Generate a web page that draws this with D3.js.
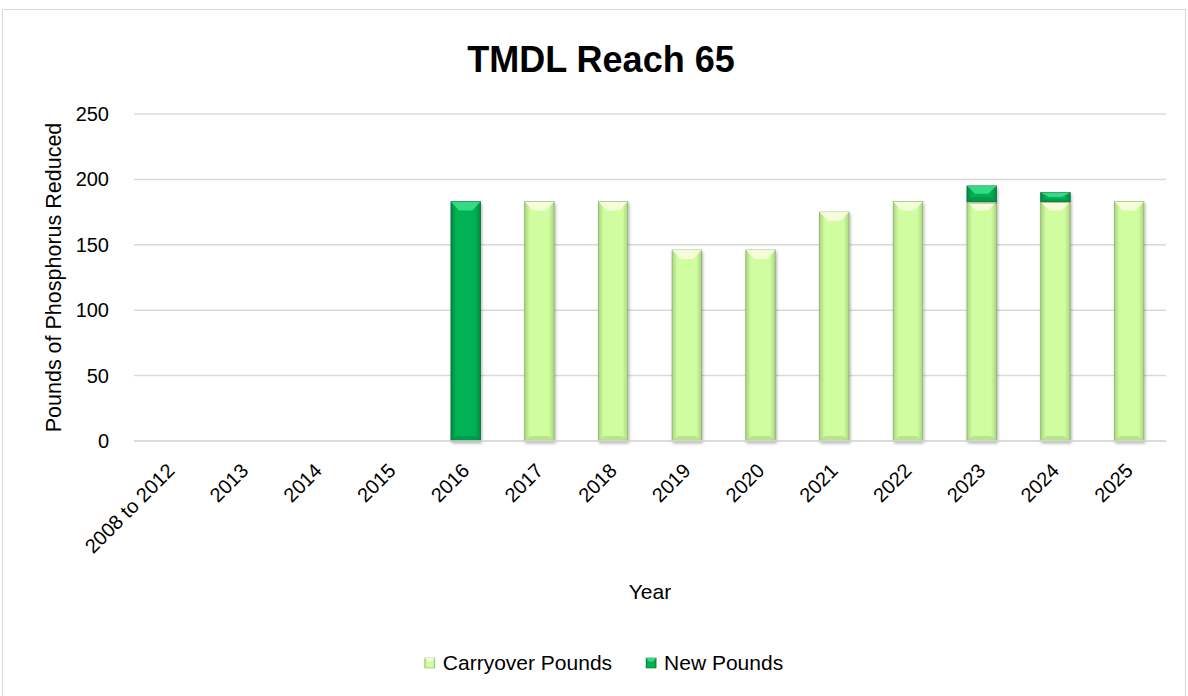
<!DOCTYPE html>
<html>
<head>
<meta charset="utf-8">
<script src="https://cdn.jsdelivr.net/npm/d3@7"></script>
<style>
  body { margin: 0; background: #fff; }
  svg text { font-family: "Liberation Sans", Arial, sans-serif; fill: #000; }
</style>
</head>
<body>
<div id="chart"></div>
<script>
// Data
const categories = ['2008 to 2012', '2013', '2014', '2015', '2016', '2017', '2018',
    '2019', '2020', '2021', '2022', '2023', '2024', '2025'];
const carryoverPounds = [0, 0, 0, 0, 0, 183, 183, 146, 146, 175, 183, 183, 183, 183];
const newPounds = [0, 0, 0, 0, 183, 0, 0, 0, 0, 0, 0, 12, 7, 0];
const yTicks = [0, 50, 100, 150, 200, 250];
const seriesNames = ['Carryover Pounds', 'New Pounds'];

const W = 1188, H = 696;
const margin = { top: 114, right: 22, bottom: 255, left: 134 };
const width = W - margin.left - margin.right;
const height = H - margin.top - margin.bottom;

const svg = d3.select('#chart').append('svg')
    .attr('width', W).attr('height', H);

// Gradients for the bevelled bars
const defs = svg.append('defs');
const palettes = {
    carry: { edge: '#a9d57f', mid: '#d0fd9f', hi: '#fbfde2', line: '#8fb070' },
    fresh: { edge: '#028a42', mid: '#00b252', hi: '#3fe08f', line: '#0b6b37' }
};
Object.entries(palettes).forEach(([key, p]) => {
    const g = defs.append('linearGradient').attr('id', 'grad-' + key)
        .attr('x1', '0%').attr('x2', '100%').attr('y1', '0%').attr('y2', '0%');
    g.append('stop').attr('offset', '0%').attr('stop-color', p.edge);
    g.append('stop').attr('offset', '18%').attr('stop-color', p.mid);
    g.append('stop').attr('offset', '82%').attr('stop-color', p.mid);
    g.append('stop').attr('offset', '100%').attr('stop-color', p.edge);
});
const shadow = defs.append('filter').attr('id', 'shadow')
    .attr('x', '-30%').attr('y', '-10%').attr('width', '160%').attr('height', '120%');
shadow.append('feDropShadow').attr('dx', 1).attr('dy', 2).attr('stdDeviation', 1.5)
    .attr('flood-color', '#000').attr('flood-opacity', 0.3);

// Chart border
svg.append('rect')
    .attr('x', 2.5).attr('y', 9.5).attr('width', W - 5).attr('height', H)
    .attr('fill', 'none').attr('stroke', '#d9d9d9');

const g = svg.append('g').attr('transform', `translate(${margin.left},${margin.top})`);

const x = d3.scaleBand().domain(categories).range([0, width]).paddingInner(0.6).paddingOuter(0.3);
const y = d3.scaleLinear().domain([0, 250]).range([height, 0]);

// Grid
g.append('g')
    .selectAll('line')
    .data(yTicks)
    .enter().append('line')
    .attr('x1', 0).attr('x2', width)
    .attr('y1', d => y(d)).attr('y2', d => y(d))
    .attr('stroke', '#d9d9d9').attr('stroke-width', 1.5);

// Y axis labels
g.append('g')
    .call(d3.axisLeft(y).tickValues(yTicks).tickSize(0).tickPadding(25))
    .call(a => a.select('.domain').remove())
    .selectAll('text')
    .attr('font-size', 20).attr('fill', '#000')
    .style('font-family', '"Liberation Sans", Arial, sans-serif');

// Stacked bars
const stackData = categories.map((c, i) => ({ cat: c, carry: carryoverPounds[i], fresh: newPounds[i] }));
const stack = d3.stack().keys(['carry', 'fresh'])(stackData);

function bevelBar(sel, key) {
    const p = palettes[key];
    sel.each(function (d) {
        const h = y(d[0]) - y(d[1]);
        if (h <= 0) return;
        const bx = x(d.data.cat), bw = x.bandwidth(), by = y(d[1]);
        const grp = d3.select(this);
        grp.append('rect')
            .attr('x', bx).attr('y', by).attr('width', bw).attr('height', h)
            .attr('fill', `url(#grad-${key})`)
            .attr('stroke', p.line).attr('stroke-width', 0.8)
            .attr('filter', 'url(#shadow)');
        // top bevel highlight
        const depth = Math.min(bw * 0.3, h * 0.5);
        grp.append('path')
            .attr('d', `M${bx},${by} L${bx + bw},${by} L${bx + bw * 0.72},${by + depth} L${bx + bw * 0.28},${by + depth} Z`)
            .attr('fill', p.hi).attr('opacity', 0.85);
        // bottom bevel shade
        grp.append('path')
            .attr('d', `M${bx},${by + h} L${bx + bw},${by + h} L${bx + bw * 0.8},${by + h - Math.min(5, h * 0.3)} L${bx + bw * 0.2},${by + h - Math.min(5, h * 0.3)} Z`)
            .attr('fill', p.edge).attr('opacity', 0.6);
    });
}

stack.forEach(layer => {
    g.append('g')
        .selectAll('g')
        .data(layer)
        .enter().append('g')
        .call(sel => bevelBar(sel, layer.key));
});

// X axis baseline
g.append('line')
    .attr('x1', 0).attr('x2', width)
    .attr('y1', y(0)).attr('y2', y(0))
    .attr('stroke', '#d9d9d9').attr('stroke-width', 1.5);

// X axis labels (rotated)
g.append('g')
    .selectAll('text')
    .data(categories)
    .enter().append('text')
    .attr('transform', d => `translate(${x(d) + x.bandwidth() / 2},${height + 26}) rotate(-45)`)
    .attr('text-anchor', 'end')
    .attr('dy', '0.35em')
    .attr('font-size', 20)
    .text(d => d);

// Title
svg.append('text')
    .attr('x', W / 2 + 7).attr('y', 72)
    .attr('text-anchor', 'middle')
    .attr('font-size', 36).attr('font-weight', 'bold')
    .text('TMDL Reach 65');

// Axis titles
svg.append('text')
    .attr('transform', `translate(61,${margin.top + height / 2}) rotate(-90)`)
    .attr('text-anchor', 'middle')
    .attr('font-size', 21.5)
    .text('Pounds of Phosphorus Reduced');

svg.append('text')
    .attr('x', margin.left + width / 2).attr('y', 599)
    .attr('text-anchor', 'middle')
    .attr('font-size', 21)
    .text('Year');

// Legend
const legend = svg.append('g');
let lx = 0;
seriesNames.forEach((name, i) => {
    const key = i === 0 ? 'carry' : 'fresh';
    const item = legend.append('g').attr('transform', `translate(${lx},0)`);
    item.append('rect')
        .attr('x', 0).attr('y', -5).attr('width', 10).attr('height', 10)
        .attr('fill', `url(#grad-${key})`).attr('stroke', palettes[key].line).attr('stroke-width', 0.6);
    item.append('path')
        .attr('d', 'M0,-5 L10,-5 L7,-1.5 L3,-1.5 Z')
        .attr('fill', palettes[key].hi).attr('opacity', 0.85);
    const t = item.append('text')
        .attr('x', 18).attr('dy', '0.35em')
        .attr('font-size', 21)
        .text(name);
    lx += 18 + t.node().getComputedTextLength() + 34;
});
const legendWidth = lx - 34;
legend.attr('transform', `translate(${604 - legendWidth / 2},663)`);
</script>
</body>
</html>
